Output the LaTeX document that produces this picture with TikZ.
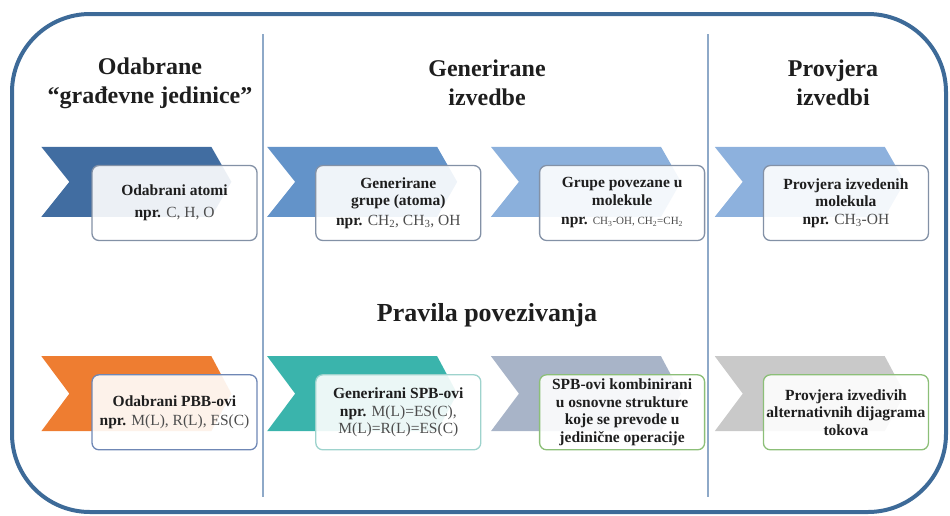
\documentclass[tikz,border=0pt]{standalone}
\usepackage{fontspec}
\setmainfont{Liberation Serif}
\usepackage{xcolor}
\usetikzlibrary{positioning,backgrounds}
\definecolor{ink}{HTML}{1E1E1E}
\definecolor{chemgray}{HTML}{4D4D4D}
\definecolor{framec}{HTML}{3D6A98}
\definecolor{rulec}{HTML}{8EA9C8}
\definecolor{boxedge}{HTML}{8391A6}
\definecolor{pbbedge}{HTML}{6F87B5}
\definecolor{spbedge}{HTML}{9ED3CD}
\definecolor{greenedge}{HTML}{8CBF78}
\definecolor{atomblue}{HTML}{416DA1}
\definecolor{groupblue}{HTML}{6393C9}
\definecolor{molblue}{HTML}{8BB0DC}
\definecolor{checkblue}{HTML}{8DB1DD}
\definecolor{pbborange}{HTML}{EE7D31}
\definecolor{spbteal}{HTML}{3AB4AC}
\definecolor{combgrey}{HTML}{A8B4C8}
\definecolor{flowgrey}{HTML}{C9C9C9}
\newcommand{\chem}[1]{{\mdseries\color{chemgray}#1}}

\begin{document}
\begin{tikzpicture}[
    x=1pt, y=-1pt,
    node distance=133pt and 57.5pt,
    box/.style={rounded corners=7pt, draw=boxedge, line width=1.3pt, fill=white, fill opacity=0.9, text opacity=1, minimum width=165pt, minimum height=75pt, inner sep=2pt, align=center, text=ink, font=\bfseries\fontsize{15.5}{17.5}\selectfont},
    head/.style={align=center, text=ink, font=\bfseries\fontsize{24}{29}\selectfont},
    rulel/.style={draw=rulec, line width=1.6pt},
    pics/chevron/.style={code={\fill[pic actions] (0,0) -- (170,0) -- (190,#1/2) -- (170,#1) -- (0,#1) -- (28,#1/2) -- cycle;}}
  ]
  \useasboundingbox (0,0) rectangle (950,515);

  % outer frame and column rules
  \draw[draw=framec, line width=4pt, rounded corners=78pt] (12,14) rectangle (946,512);
  \draw[rulel] (263,34) -- (263,497);
  \draw[rulel] (708,34) -- (708,497);

  % headings
  \node[head] (units) at (150,83) {Odabrane\\“građevne jedinice”};
  \node[head] (derived) at (487,83) {Generirane\\izvedbe};
  \node[head] (verify) at (833,83) {Provjera\\izvedbi};
  \node[head, font=\bfseries\fontsize{26}{30}\selectfont] (rules) at (487,315) {Pravila povezivanja};

  % top row
  \node[box] (atoms) at (174.5,203) {Odabrani atomi\\[5pt]npr. \chem{C, H, O}};
  \node[box, right=of atoms] (groups) {Generirane\\grupe (atoma)\\[2pt]npr. \chem{CH\textsubscript{2}, CH\textsubscript{3}, OH}};
  \node[box, right=of groups] (mols) {Grupe povezane u\\molekule\\[2pt]npr. \chem{\fontsize{11}{12}\selectfont CH\textsubscript{3}-OH, CH\textsubscript{2}=CH\textsubscript{2}}};
  \node[box, right=of mols] (check) {Provjera izvedenih\\molekula\\npr. \chem{CH\textsubscript{3}-OH}};

  % bottom row
  \node[box, below=of atoms, draw=pbbedge] (pbb) {Odabrani PBB-ovi\\[2pt]npr. \chem{M(L), R(L), ES(C)}};
  \node[box, below=of groups, draw=spbedge] (spb) {Generirani SPB-ovi\\npr. \chem{M(L)=ES(C),}\\\chem{M(L)=R(L)=ES(C)}};
  \node[box, below=of mols, draw=greenedge] (comb) {SPB-ovi kombinirani\\u osnovne strukture\\koje se prevode u\\jedinične operacije};
  \node[box, below=of check, draw=greenedge] (flows) {Provjera izvedivih\\alternativnih dijagrama\\tokova};

  % chevrons behind the boxes
  \begin{scope}[on background layer]
    \pic[fill=atomblue] at ([shift={(-50pt,18pt)}]atoms.north west) {chevron=70};
    \pic[fill=groupblue] at ([shift={(-48pt,18pt)}]groups.north west) {chevron=70};
    \pic[fill=molblue] at ([shift={(-48pt,18pt)}]mols.north west) {chevron=70};
    \pic[fill=checkblue] at ([shift={(-48pt,18pt)}]check.north west) {chevron=70};
    \pic[fill=pbborange] at ([shift={(-50pt,18pt)}]pbb.north west) {chevron=75};
    \pic[fill=spbteal] at ([shift={(-48pt,18pt)}]spb.north west) {chevron=75};
    \pic[fill=combgrey] at ([shift={(-48pt,18pt)}]comb.north west) {chevron=75};
    \pic[fill=flowgrey] at ([shift={(-48pt,18pt)}]flows.north west) {chevron=75};
  \end{scope}
\end{tikzpicture}
\end{document}
